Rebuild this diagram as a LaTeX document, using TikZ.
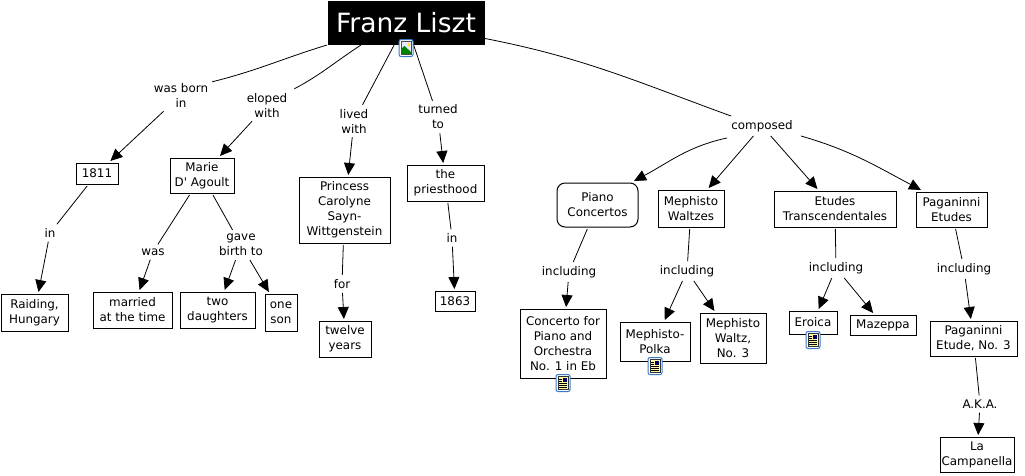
\documentclass[tikz,border=0pt]{standalone}
\usepackage{fontspec}
\setmainfont{DejaVu Sans}
\newfontfamily\plainfont{DejaVu Sans}
\usetikzlibrary{arrows.meta}
\definecolor{iconblue}{HTML}{3A78C8}
\tikzset{
  x=1pt,y=-1pt,
  conbox/.style={draw=black,line width=1pt,fill=white,align=center,inner sep=0pt,font=\fontsize{11.9}{15}\selectfont,outer sep=2pt},
  lbl/.style={align=center,inner sep=4pt,font=\fontsize{11.9}{15}\selectfont},
  link/.style={draw=black,line width=0.8pt},
  arr/.style={link,-{Triangle[length=12pt,width=11pt]}},
}
\newcommand{\bx}[7][]{% name x0 y0 x1 y1 text
  \node[conbox,#1,minimum width=#4pt-#2pt,minimum height=#5pt-#3pt] (#6) at ({(#2+#4)/2},{(#3+#5)/2}) {#7};}
\newcommand{\lb}[4]{\node[lbl] (#1) at (#2,#3) {#4};}
\newcommand{\imgicon}[2]{\begin{scope}[shift={(#1,#2)}]
  \draw[iconblue,line width=1pt,fill=white,rounded corners=2pt] (-7,-8.5) rectangle (7,8.5);
  \fill[white!70!blue!30] (-5,-6.5) rectangle (5,6.5);
  \fill[yellow!90!orange] (3,-3.5) circle (1.7);
  \fill[green!50!black] (-5,6.5) -- (-5,1) -- (-1.5,-2) -- (5,4) -- (5,6.5) -- cycle;
  \draw[black!70,line width=.6pt] (-5,-6.5) rectangle (5,6.5);
\end{scope}}
\newcommand{\noteicon}[2]{\begin{scope}[shift={(#1,#2)}]
  \draw[iconblue,line width=1pt,fill=white,rounded corners=2pt] (-7,-8.5) rectangle (7,8.5);
  \fill[yellow!35] (-5,-6.5) rectangle (5,6.5);
  \draw[black!80,line width=.7pt] (-5,-6.5) rectangle (5,6.5);
  \fill[black!60!blue] (0,-5) rectangle (4,-1);
  \foreach \yy in {-4,-2,0,2,4}{\draw[black,line width=.6pt] (-4,\yy) -- ({\yy<0?-1:4},\yy);}
\end{scope}}
\begin{document}
\begin{tikzpicture}
\useasboundingbox (0,0) rectangle (1025,475);
\fill[white] (0,0) rectangle (1025,475);
\node[draw=black,fill=black,text=white,inner sep=0pt,minimum width=156pt,minimum height=43pt,font=\fontsize{26.5}{30}\selectfont,outer sep=1pt] (title) at (406,22.5) {Franz Liszt};
\bx{76}{163}{118}{184}{y1811}{1811}
\bx{170}{158}{234}{193}{marie}{Marie\\D{\plainfont'} Agoult}
\bx{1}{294}{68}{331}{raiding}{Raiding,\\Hungary}
\bx{93}{292}{172}{328}{married}{married\\at the time}
\bx{180}{292}{255}{328}{daughters}{two\\daughters}
\bx{265}{294}{297}{331}{son}{one\\son}
\bx{299}{177}{390}{243}{princess}{Princess\\Carolyne\\Sayn-\\Wittgenstein}
\bx{319}{321}{371}{357}{twelve}{twelve\\years}
\bx{407}{165}{484}{201}{priest}{the\\priesthood}
\bx{435}{291}{475}{311}{y1863}{1863}
\bx[rounded corners=8pt]{557}{183}{638}{227}{piano}{Piano\\Concertos}
\bx{658}{190}{724}{227}{waltzes}{Mephisto\\Waltzes}
\bx{774}{191}{896}{227}{trans}{Etudes\\Transcendentales}
\bx{916}{192}{987}{227}{petudes}{Paganinni\\Etudes}
\bx{520}{309}{606}{378}{concerto}{Concerto for\\Piano and\\Orchestra\\No. 1 in Eb}
\bx{620}{322}{690}{361}{polka}{Mephisto-\\Polka}
\bx{700}{313}{766}{363}{waltz}{Mephisto\\Waltz,\\No. 3}
\bx{789}{311}{837}{334}{eroica}{Eroica}
\bx{850}{315}{916}{335}{mazeppa}{Mazeppa}
\bx{930}{321}{1017}{356}{etude}{Paganinni\\Etude, No. 3}
\bx{940}{437}{1014}{472}{campa}{La\\Campanella}
\lb{lborn}{181}{95}{was born\\in}
\lb{lelop}{267}{105}{eloped\\with}
\lb{llived}{354}{121}{lived\\with}
\lb{lturn}{438}{117}{turned\\to}
\lb{lcomp}{762}{126}{composed}
\lb{lin}{50}{233}{in}
\lb{lwas}{153}{252}{was}
\lb{lgave}{241}{245}{gave\\birth to}
\lb{lfor}{342}{284}{for}
\lb{lina}{452}{238}{in}
\lb{linca}{569}{272}{including}
\lb{lincb}{687}{271}{including}
\lb{lincc}{836}{268}{including}
\lb{lincd}{964}{269}{including}
\lb{laka}{980}{404}{A.K.A.}
\path[link] (title.south west) to[out=197,in=14] ([yshift=-3pt]lborn.north east);
\path[link] ([xshift=34pt]title.south west) to[out=213,in=28] ([xshift=3pt]lelop.north east);
\path[link] (title) -- (llived);
\path[link] (title) -- (lturn);
\path[link] ([yshift=-16pt]title.east) to[out=-11,in=160] ([xshift=4pt]lcomp.north west);
\path[arr] (lborn) -- (y1811);
\path[arr] (lelop) -- (marie);
\path[arr] (llived) -- (princess);
\path[arr] (lturn) -- (priest);
\path[arr] ([yshift=-2pt]lcomp.south west) to[out=192,in=28] ([xshift=-6pt]piano.north east);
\path[arr] (lcomp) -- (waltzes);
\path[arr] (lcomp) -- (trans);
\path[arr] ([xshift=4pt]lcomp.south east) to[out=-16,in=152] ([xshift=7pt]petudes.north west);
\path[link] (y1811) -- (lin);
\path[arr] (lin) -- (raiding);
\path[link] (marie) -- (lwas);
\path[arr] (lwas) -- (married);
\path[link] (marie) -- (lgave);
\path[arr] (lgave) -- (daughters);
\path[arr] (lgave) -- (son);
\path[link] (princess) -- (lfor);
\path[arr] (lfor) -- (twelve);
\path[link] (priest) -- (lina);
\path[arr] (lina) -- (y1863);
\path[link] (piano) -- (linca);
\path[arr] (linca) -- (concerto);
\path[link] (waltzes) -- (lincb);
\path[arr] (lincb) -- (polka);
\path[arr] (lincb) -- (waltz);
\path[link] (trans) -- (lincc);
\path[arr] (lincc) -- (eroica);
\path[arr] (lincc) -- (mazeppa);
\path[link] (petudes) -- (lincd);
\path[arr] (lincd) -- (etude);
\path[link] (etude) -- (laka);
\path[arr] (laka) -- (campa);
\imgicon{406}{48}
\noteicon{563}{383}
\noteicon{655}{366}
\noteicon{813}{340}
\end{tikzpicture}
\end{document}
